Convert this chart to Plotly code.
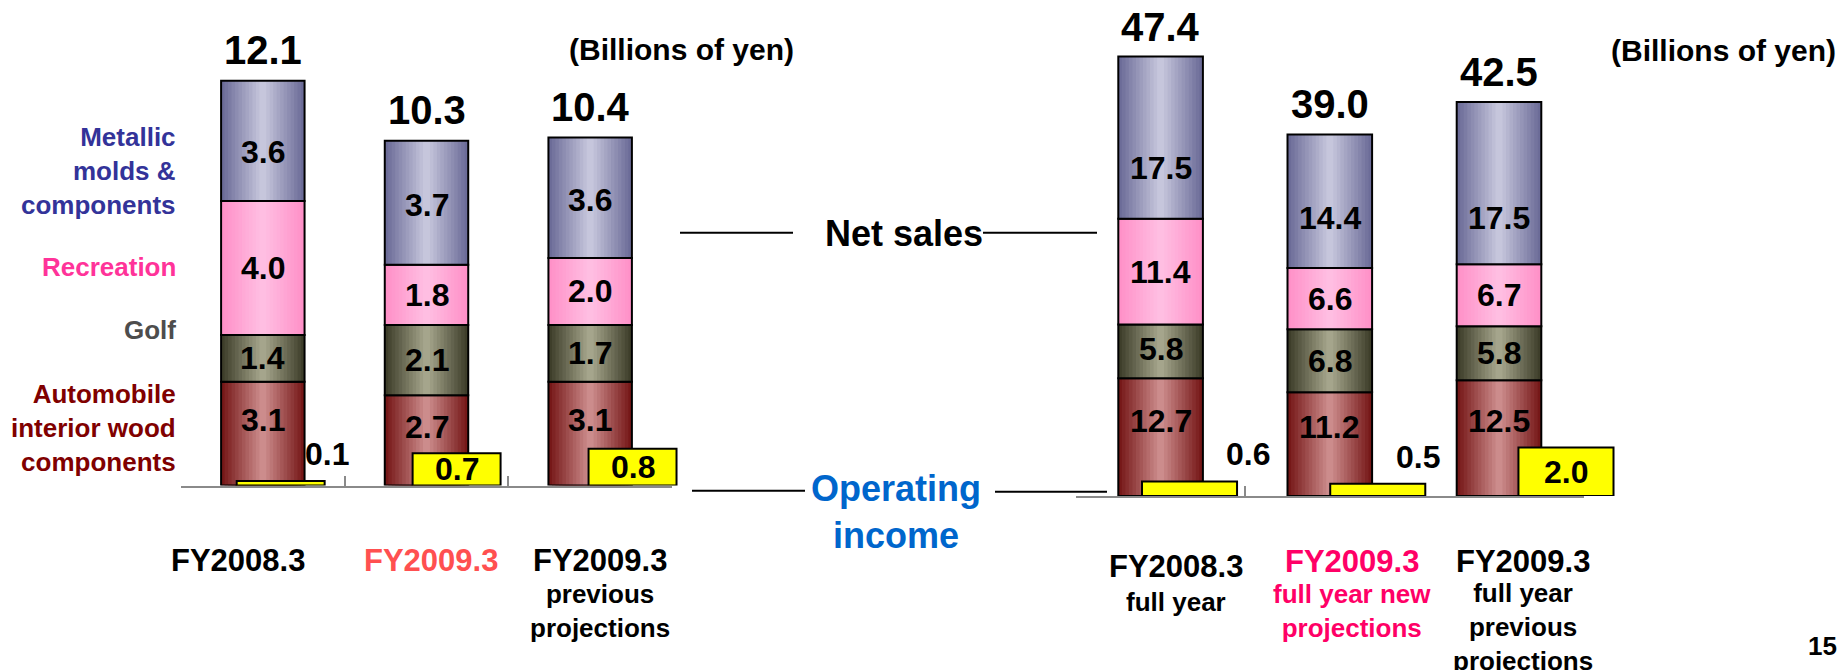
import plotly.graph_objects as go

# ---------------- data ----------------
left_categories = ["FY2008.3", "FY2009.3", "FY2009.3 previous projections"]
left_auto = [3.1, 2.7, 3.1]
left_golf = [1.4, 2.1, 1.7]
left_rec = [4.0, 1.8, 2.0]
left_metal = [3.6, 3.7, 3.6]
left_total = [12.1, 10.3, 10.4]
left_op = [0.1, 0.7, 0.8]

right_categories = ["FY2008.3 full year", "FY2009.3 full year new projections",
                    "FY2009.3 full year previous projections"]
right_auto = [12.7, 11.2, 12.5]
right_golf = [5.8, 6.8, 5.8]
right_rec = [11.4, 6.6, 6.7]
right_metal = [17.5, 14.4, 17.5]
right_total = [47.4, 39.0, 42.5]
right_op = [0.6, 0.5, 2.0]

segment_names = ["Automobile interior wood components", "Golf", "Recreation",
                 "Metallic molds & components"]

# ---------------- style ----------------
W, H = 1848, 670
FONT = "Liberation Sans, Arial, Helvetica, sans-serif"
N_STEPS = 12
GRADIENTS = [  # (edge, center) rgb
    ((118, 24, 24), (204, 140, 140)),    # automobile
    ((62, 62, 42), (165, 165, 140)),     # golf
    ((255, 145, 200), (255, 190, 226)),  # recreation
    ((108, 108, 152), (198, 198, 220)),  # metallic
]
YELLOW = "#ffff00"


def fx(px):
    return px / W


def fy(py):
    return 1 - py / H


def ydomain(base_px, px_per_unit, top_value):
    return [1 - base_px / H, 1 - (base_px - px_per_unit * top_value) / H]


def mix(a, b, t):
    return "rgb(%d,%d,%d)" % tuple(round(a[i] + (b[i] - a[i]) * t) for i in range(3))


fig = go.Figure()


def add_stack(cats, series, width, xa, ya):
    base = [0.0] * len(cats)
    for vals, (edge, center) in zip(series, GRADIENTS):
        for k in range(N_STEPS):
            frac = 1 - k / N_STEPS
            t = k / (N_STEPS - 1)
            fig.add_trace(go.Bar(x=cats, y=vals, base=base, width=width * frac,
                                 marker=dict(color=mix(edge, center, t), line=dict(width=0)),
                                 xaxis=xa, yaxis=ya, hoverinfo="skip", showlegend=False))
        fig.add_trace(go.Bar(x=cats, y=vals, base=base, width=width,
                             marker=dict(color="rgba(0,0,0,0)", line=dict(color="black", width=2)),
                             xaxis=xa, yaxis=ya, hoverinfo="skip", showlegend=False))
        base = [b + v for b, v in zip(base, vals)]


def add_op(cats, vals, width, xa, ya):
    fig.add_trace(go.Bar(x=cats, y=vals, width=width,
                         marker=dict(color=YELLOW, line=dict(color="black", width=2)),
                         xaxis=xa, yaxis=ya, hoverinfo="skip", showlegend=False))


left_series = [left_auto, left_golf, left_rec, left_metal]
right_series = [right_auto, right_golf, right_rec, right_metal]

add_stack(left_categories, left_series, 0.51, "x", "y")
add_op(left_categories, left_op, 0.50, "x2", "y2")
add_stack(right_categories, right_series, 0.50, "x3", "y3")
add_op(right_categories, right_op, 0.505, "x4", "y4")

# pixel scales of the axes (style)
LEFT_BASE, LEFT_PPU, LEFT_TOP = 485.5, 33.46, 13
LEFTOP_PPU, LEFTOP_TOP = 46.0, 10
RIGHT_BASE, RIGHT_PPU, RIGHT_TOP = 496.0, 9.27, 52
RIGHTOP_PPU, RIGHTOP_TOP = 24.3, 20

axis_common = dict(showgrid=False, zeroline=False, fixedrange=True)
stack_x = dict(type="category", range=[-0.5, 2.5], showline=True, linecolor="#8a8a8a",
               linewidth=1.5, ticks="inside", tickson="boundaries", ticklen=10,
               tickcolor="#8a8a8a", tickwidth=1.5, showticklabels=False, **axis_common)
hidden = dict(visible=False, **axis_common)

fig.update_layout(
    width=W, height=H, margin=dict(l=0, r=0, t=0, b=0),
    paper_bgcolor="white", plot_bgcolor="rgba(0,0,0,0)",
    barmode="overlay", showlegend=False, template="none",
    xaxis=dict(domain=[fx(181), fx(672)], anchor="y", categoryarray=left_categories, **stack_x),
    yaxis=dict(domain=ydomain(LEFT_BASE, LEFT_PPU, LEFT_TOP), range=[0, LEFT_TOP], anchor="x", **hidden),
    xaxis2=dict(domain=[fx(192.7), fx(720.5)], anchor="y2", type="category",
                categoryarray=left_categories, range=[-0.5, 2.5], **hidden),
    yaxis2=dict(domain=ydomain(LEFT_BASE, LEFTOP_PPU, LEFTOP_TOP), range=[0, LEFTOP_TOP], anchor="x2", **hidden),
    xaxis3=dict(domain=[fx(1076), fx(1583.6)], anchor="y3", categoryarray=right_categories, **stack_x),
    yaxis3=dict(domain=ydomain(RIGHT_BASE, RIGHT_PPU, RIGHT_TOP), range=[0, RIGHT_TOP], anchor="x3", **hidden),
    xaxis4=dict(domain=[fx(1095.4), fx(1660.1)], anchor="y4", type="category",
                categoryarray=right_categories, range=[-0.5, 2.5], **hidden),
    yaxis4=dict(domain=ydomain(RIGHT_BASE, RIGHTOP_PPU, RIGHTOP_TOP), range=[0, RIGHTOP_TOP], anchor="x4", **hidden),
)

ann = []


def txt(text, x, y, size, color="black", xref="paper", yref="paper", xanchor="center",
        yanchor="middle", align="center", xshift=0, yshift=0):
    ann.append(dict(text=text, x=x, y=y, xref=xref, yref=yref, xanchor=xanchor, yanchor=yanchor,
                    align=align, xshift=xshift, yshift=yshift, showarrow=False,
                    font=dict(family=FONT, size=size, color=color, weight="bold")))


# segment label vertical pixel shifts (style), per series then per bar
left_label_shift = [[14, 13, 14], [0, 0, 0], [0, 0, 0], [-11, -2, -2]]
right_label_shift = [[16, 17, 17], [2, 0, 0], [0, 0, 0], [-30, -17, -35]]


def stack_labels(cats, series, shifts, xref, yref):
    base = [0.0] * len(cats)
    for vals, sh in zip(series, shifts):
        for i, c in enumerate(cats):
            txt("%.1f" % vals[i], c, base[i] + vals[i] / 2, 32, xref=xref, yref=yref, yshift=sh[i])
        base = [b + v for b, v in zip(base, vals)]


stack_labels(left_categories, left_series, left_label_shift, "x", "y")
stack_labels(right_categories, right_series, right_label_shift, "x3", "y3")

for c, t in zip(left_categories, left_total):
    txt("%.1f" % t, c, t, 40, xref="x", yref="y", yshift=31)
for c, t in zip(right_categories, right_total):
    txt("%.1f" % t, c, t, 40, xref="x3", yref="y3", yshift=30)

# operating income labels
left_op_xshift = [46, 0, 0]
right_op_xshift = [58, 40, 0]


def op_labels(cats, vals, ppu, xshifts, xref, yref):
    for c, v, xs in zip(cats, vals, xshifts):
        if v * ppu > 25:
            txt("%.1f" % v, c, v / 2, 32, xref=xref, yref=yref)
        else:
            txt("%.1f" % v, c, v, 32, xref=xref, yref=yref, xshift=xs, yshift=27)


op_labels(left_categories, left_op, LEFTOP_PPU, left_op_xshift, "x2", "y2")
op_labels(right_categories, right_op, RIGHTOP_PPU, right_op_xshift, "x4", "y4")

# segment legend on the left
txt("Metallic<br>molds &<br>components", fx(178), fy(171), 26, "#333399", xanchor="right", align="right")
txt("Recreation", fx(178), fy(267), 26, "#ff3399", xanchor="right", align="right")
txt("Golf", fx(178), fy(330), 26, "#4d4d4d", xanchor="right", align="right")
txt("Automobile<br>interior wood<br>components", fx(178), fy(428), 26, "#800000",
    xanchor="right", align="right")

# units
txt("(Billions of yen)", fx(681), fy(50), 30)
txt("(Billions of yen)", fx(1723), fy(51), 30)

# centre captions
txt("Net sales", fx(904), fy(233), 36)
txt("Operating<br>income", fx(896), fy(512), 36, "#0066cc")

# category labels
txt("FY2008.3", fx(238), fy(560), 31)
txt("FY2009.3", fx(431), fy(560), 31, "#ff5050")
txt("FY2009.3", fx(600), fy(560), 31)
txt("previous<br>projections", fx(600), fy(611), 26)

txt("FY2008.3", fx(1176), fy(566), 31)
txt("full year", fx(1176), fy(602), 26)
txt("FY2009.3", fx(1352), fy(561), 31, "#ff0066")
txt("full year new<br>projections", fx(1352), fy(611), 26, "#ff0066")
txt("FY2009.3", fx(1523), fy(561), 31)
txt("full year<br>previous<br>projections", fx(1523), fy(627), 26)

txt("15", fx(1822), fy(646), 26)

fig.update_layout(annotations=ann)

# connector lines
shapes = []
for x0, x1, y in [(680, 793, 232.7), (983, 1097, 232.7), (692, 805, 490.7), (995, 1107, 491.7)]:
    shapes.append(dict(type="line", xref="paper", yref="paper", x0=fx(x0), x1=fx(x1),
                       y0=fy(y), y1=fy(y), line=dict(color="black", width=2)))
fig.update_layout(shapes=shapes)

fig.write_html("out.html", config={"displayModeBar": False},
               post_script="document.body.style.margin='0';document.body.style.overflow='hidden';")
